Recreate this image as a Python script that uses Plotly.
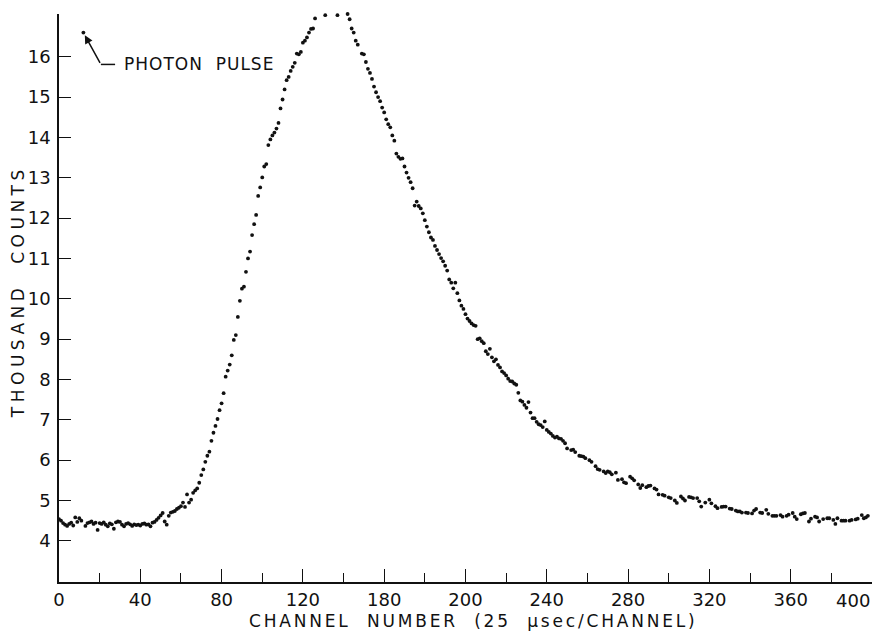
import plotly.graph_objects as go

# ---- data (thousand counts per channel) ----
channels = list(range(0, 399))

counts = [
    # 0-49 baseline (channel 12 = photon pulse)
    4.54, 4.50, 4.44, 4.40, 4.37, 4.42, 4.45, 4.38, 4.58, 4.47,
    4.56, 4.50, 16.60, 4.37, 4.44, 4.46, 4.48, 4.42, 4.45, 4.27,
    4.44, 4.42, 4.46, 4.40, 4.36, 4.43, 4.41, 4.30, 4.46, 4.48,
    4.47, 4.40, 4.36, 4.42, 4.44, 4.41, 4.37, 4.41, 4.39, 4.40,
    4.38, 4.42, 4.43, 4.40, 4.41, 4.36, 4.45, 4.47, 4.52, 4.57,
    # 50-99 rise
    4.63, 4.69, 4.48, 4.40, 4.62, 4.70, 4.72, 4.74, 4.79, 4.82,
    4.86, 4.95, 4.84, 5.15, 4.95, 5.02, 5.19, 5.25, 5.30, 5.44,
    5.63, 5.77, 5.96, 6.11, 6.21, 6.48, 6.68, 6.85, 7.02, 7.24,
    7.41, 7.66, 8.07, 8.22, 8.37, 8.60, 8.98, 9.10, 9.55, 9.95,
    10.25, 10.30, 10.67, 11.00, 11.17, 11.58, 11.85, 12.08, 12.55, 12.76,
    # 100-149 peak
    13.01, 13.28, 13.34, 13.81, 13.95, 14.05, 14.12, 14.22, 14.36, 14.72,
    14.94, 15.19, 15.42, 15.50, 15.65, 15.75, 15.85, 16.08, 16.06, 16.12,
    16.35, 16.40, 16.48, 16.60, 16.69, 16.70, 16.95, None, 17.11, None,
    None, 17.03, None, None, None, 17.16, None, 17.03, None, 17.11,
    None, None, 17.06, 16.93, 16.70, 16.60, 16.40, 16.30, None, 16.08,
    # 150-249 decay
    16.06, 15.87, 15.70, 15.60, 15.45, 15.26, 15.12, 15.00, 14.90, 14.74,
    14.62, 14.45, 14.33, 14.25, 14.05, 13.92, 13.60, 13.52, 13.47, 13.48,
    13.28, 13.13, 13.00, 12.89, 12.74, 12.31, 12.41, 12.30, 12.24, 12.12,
    11.95, 11.79, 11.65, 11.52, 11.46, 11.31, 11.21, 11.11, 11.01, 10.93,
    10.82, 10.70, 10.48, 10.40, 10.26, 10.40, 10.14, 9.96, 9.83, 9.75,
    9.62, 9.51, 9.45, 9.39, 9.35, 9.33, 9.00, 9.02, 8.95, 8.90,
    8.70, 8.63, 8.76, 8.55, 8.45, 8.50, 8.36, 8.30, 8.20, 8.16,
    8.10, 8.02, 7.96, 7.95, 7.90, 7.87, 7.67, 7.48, 7.45, 7.37,
    7.30, 7.44, 7.18, 7.04, 7.04, 6.95, 6.89, 6.87, 6.82, 6.96,
    6.75, 6.70, 6.66, 6.60, 6.56, 6.58, 6.54, 6.53, 6.48, 6.42,
    # 250-398 tail
    6.29, None, 6.25, 6.26, 6.20, None, 6.11, 6.10, 6.09, 6.05,
    None, 6.00, 5.96, None, 5.85, 5.78, 5.76, None, 5.72, 5.68,
    5.72, 5.70, 5.65, None, 5.69, 5.51, None, 5.53, 5.45, 5.43,
    None, 5.59, 5.55, 5.50, None, 5.40, 5.31, 5.38, None, 5.33,
    5.36, 5.37, None, 5.30, 5.27, 5.15, None, 5.14, 5.12, None,
    5.08, 5.06, None, 5.00, 4.94, None, 5.10, 5.05, 5.00, None,
    5.09, 5.08, 5.06, None, 5.06, 4.98, 4.85, None, 4.95, None,
    5.02, 4.93, None, 4.86, 4.81, None, 4.84, 4.85, 4.85, None,
    4.80, 4.79, None, 4.75, 4.73, 4.73, 4.70, None, 4.70, 4.69,
    None, 4.68, 4.75, 4.79, None, 4.70, 4.69, None, 4.77, 4.67,
    None, 4.62, 4.62, 4.62, None, 4.64, 4.60, None, 4.62, 4.65,
    None, 4.69, 4.60, 4.54, None, 4.66, 4.68, 4.69, None, 4.48,
    4.55, None, 4.60, 4.58, 4.48, None, 4.54, None, 4.56, 4.56,
    None, 4.52, 4.42, 4.56, None, 4.50, 4.50, 4.50, None, 4.50,
    4.52, None, 4.53, 4.55, None, 4.64, 4.56, 4.58, 4.62,
]

x_tick_vals = [0, 40, 80, 120, 160, 200, 240, 280, 320, 360, 400]
x_tick_text = ["0", "40", "80", "120", "180", "200", "240", "280", "320", "360", "400"]
y_tick_vals = [4, 5, 6, 7, 8, 9, 10, 11, 12, 13, 14, 15, 16]

x_title = "CHANNEL  NUMBER  (25  μsec/CHANNEL)"
y_title = "THOUSAND  COUNTS"
pulse_label = "PHOTON  PULSE"
pulse_channel = 12

FONT = "DejaVu Sans"
INK = "#111111"

fig = go.Figure()
fig.add_trace(go.Scatter(
    x=channels, y=counts, mode="markers",
    marker=dict(size=3.8, color=INK),
    cliponaxis=False, showlegend=False, hoverinfo="skip",
))

# the last label (400) sits left of its tick, so it is drawn as an annotation
axis_labels = x_tick_text[:-1] + [""]

# page body has an 8px margin, so the figure is 8px smaller and offsets reduced
fig.update_layout(
    width=872, height=627,
    margin=dict(l=51, r=8, t=6, b=53, autoexpand=False),
    paper_bgcolor="white", plot_bgcolor="white",
    font=dict(family=FONT, color=INK, size=18),
    xaxis=dict(
        range=[0, 400.02], showgrid=False, zeroline=False, automargin=False,
        showline=True, linecolor=INK, linewidth=1.6,
        tickmode="array", tickvals=x_tick_vals, ticktext=axis_labels,
        ticks="inside", ticklen=13, tickwidth=1.4, tickcolor=INK,
        tickfont=dict(size=18, family=FONT, color=INK),
        ticklabelstandoff=1, ticklabeloverflow="allow",
        minor=dict(tick0=20, dtick=40, ticks="inside", ticklen=9,
                   tickwidth=1.4, tickcolor=INK, showgrid=False),
    ),
    yaxis=dict(
        range=[2.98, 17.06], showgrid=False, zeroline=False, automargin=False,
        showline=True, linecolor=INK, linewidth=1.6,
        tickmode="array", tickvals=y_tick_vals,
        ticks="inside", ticklen=12, tickwidth=1.4, tickcolor=INK,
        tickfont=dict(size=18, family=FONT, color=INK),
        ticklabelstandoff=3,
    ),
)

pulse_value = counts[channels.index(pulse_channel)]

annotations = [
    dict(text=x_tick_text[-1], xref="x", yref="paper", x=x_tick_vals[-1], y=-0.0317,
         xanchor="right", yanchor="middle", showarrow=False,
         font=dict(size=18, family=FONT, color=INK)),
    dict(text=f'<span style="letter-spacing:2.8px">{x_title}</span>',
         xref="paper", yref="paper", x=0.509, y=-0.0687,
         xanchor="center", yanchor="middle", showarrow=False,
         font=dict(size=17, family=FONT, color=INK)),
    dict(text=f'<span style="letter-spacing:4.5px">{y_title}</span>',
         xref="paper", yref="paper", x=-0.0505, y=0.512,
         xanchor="center", yanchor="middle", textangle=-90, showarrow=False,
         font=dict(size=17, family=FONT, color=INK)),
    dict(text=f'<span style="letter-spacing:1px">{pulse_label}</span>',
         xref="x", yref="y", x=30.8, y=15.81,
         xanchor="left", yanchor="middle", showarrow=False,
         font=dict(size=17, family=FONT, color=INK)),
    dict(text="", xref="x", yref="y", x=pulse_channel, y=pulse_value,
         axref="x", ayref="y", ax=20.6, ay=15.81,
         showarrow=True, arrowhead=2, arrowsize=1.1, arrowwidth=1.5,
         arrowcolor=INK, standoff=3),
]
fig.update_layout(annotations=annotations)
fig.add_shape(type="line", xref="x", yref="y", x0=20.6, x1=27.6, y0=15.81, y1=15.81,
              line=dict(color=INK, width=1.5))

fig.write_html("out.html")
